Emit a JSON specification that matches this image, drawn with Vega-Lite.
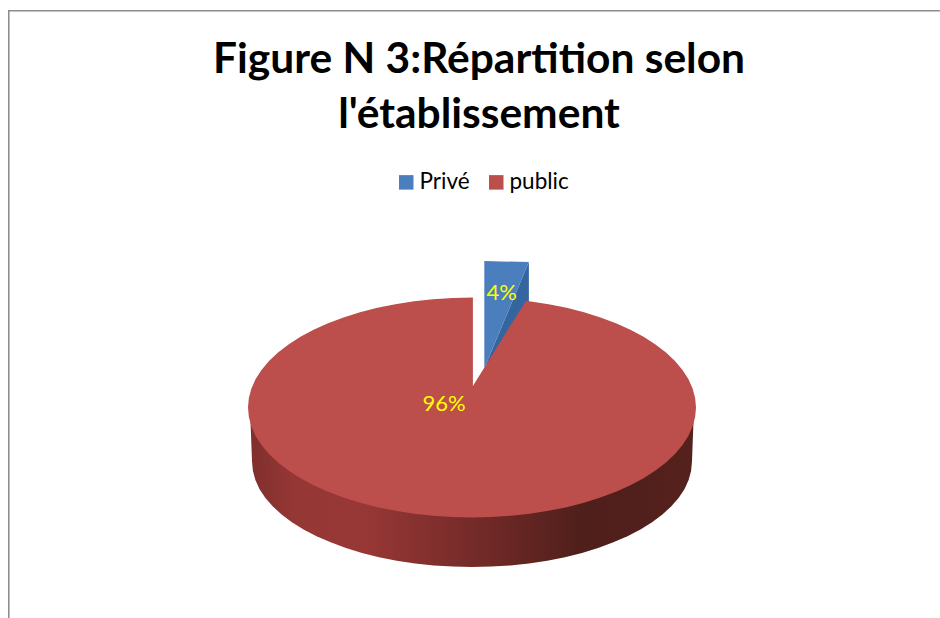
{
  "$schema": "https://vega.github.io/schema/vega-lite/v6.json",
  "width": 932,
  "height": 608,
  "autosize": "none",
  "padding": {"left": 8, "top": 10, "right": 0, "bottom": 0},
  "background": "white",
  "title": {
    "text": ["Figure N 3:Répartition selon", "l'établissement"],
    "font": "Lato",
    "fontSize": 42.5,
    "fontWeight": "bold",
    "color": "#000000",
    "anchor": "middle",
    "frame": "group",
    "baseline": "alphabetic",
    "lineHeight": 55,
    "dx": 5,
    "offset": -160
  },
  "view": {"stroke": null},
  "projection": {"type": "identity", "reflectY": true, "scale": 224, "translate": [464, 397.5]},
  "layer": [
    {
      "data": {"values": [
        {"type": "Feature", "properties": {"partie": "cadre"},
         "geometry": {"type": "LineString", "coordinates": [[2.089,1.772],[-2.069,1.772],[-2.069,-0.94]]}}
      ]},
      "mark": {"type": "geoshape", "filled": false, "fill": null, "stroke": "#8c8c8c", "strokeWidth": 2},
      "encoding": {}
    },
    {
      "data": {"values": [
        {"type": "Feature", "properties": {"categorie": "public", "partie": "tranche"},
         "geometry": {"type": "Polygon", "coordinates": [[
          [0.99,-0.03],[0.982,-0.243],[0.978,-0.284],[0.967,-0.324],[0.949,-0.364],[0.923,-0.403],[0.89,-0.441],[0.85,-0.4775],[0.804,-0.512],[0.752,-0.5445],[0.694,-0.575],[0.631,-0.602],[0.563,-0.627],[0.491,-0.649],[0.415,-0.668],[0.336,-0.684],[0.254,-0.696],[0.171,-0.705],[0.086,-0.71],[0,-0.712],
          [-0.086,-0.71],[-0.171,-0.705],[-0.254,-0.696],[-0.336,-0.684],[-0.415,-0.668],[-0.491,-0.649],[-0.563,-0.627],[-0.631,-0.602],[-0.694,-0.575],[-0.752,-0.5445],[-0.804,-0.512],[-0.85,-0.4775],[-0.89,-0.441],[-0.923,-0.403],[-0.949,-0.364],[-0.967,-0.324],[-0.978,-0.284],[-0.982,-0.243],[-0.99,-0.03],[0.99,-0.03]
         ]]}}
      ]},
      "mark": {
        "type": "geoshape",
        "strokeWidth": 0,
        "fill": {
          "gradient": "linear", "x1": 0, "y1": 0, "x2": 1, "y2": 0,
          "stops": [
            {"offset": 0, "color": "#7f2f2d"},
            {"offset": 0.1, "color": "#953735"},
            {"offset": 0.25, "color": "#983836"},
            {"offset": 0.5, "color": "#752b29"},
            {"offset": 0.75, "color": "#4f1f1b"},
            {"offset": 1, "color": "#55211d"}
          ]
        }
      },
      "encoding": {}
    },
    {
      "data": {"values": [
        {"type": "Feature", "properties": {"categorie": "Privé", "partie": "paroi"},
         "geometry": {"type": "Polygon", "coordinates": [[
          [0.254,0.649],[0.254,0.458],[0.055,0.176],[0.254,0.649]
         ]]}}
      ]},
      "mark": {"type": "geoshape", "fill": "#35659f", "strokeWidth": 0},
      "encoding": {}
    },
    {
      "data": {"values": [
        {"type": "Feature", "properties": {"categorie": "Privé", "part": 0.04},
         "geometry": {"type": "Polygon", "coordinates": [[
          [0.055,0.654],[0.254,0.649],[0.055,0.176],[0.055,0.654]
         ]]}},
        {"type": "Feature", "properties": {"categorie": "public", "part": 0.96},
         "geometry": {"type": "Polygon", "coordinates": [[
          [0.004,0.096],[0.241,0.477],[0.342,0.4614],[0.4226,0.445],[0.5,0.4252],[0.5736,0.4022],[0.6428,0.3761],[0.7071,0.3472],[0.766,0.3156],[0.8192,0.2816],[0.866,0.2455],[0.9063,0.2075],[0.9397,0.1679],[0.9659,0.1271],[0.9848,0.0852],[0.9962,0.0428],[1,0],
          [0.9962,-0.0428],[0.9848,-0.0852],[0.9659,-0.1271],[0.9397,-0.1679],[0.9063,-0.2075],[0.866,-0.2455],[0.8192,-0.2816],[0.766,-0.3156],[0.7071,-0.3472],[0.6428,-0.3761],[0.5736,-0.4022],[0.5,-0.4252],[0.4226,-0.445],[0.342,-0.4614],[0.2588,-0.4743],[0.1736,-0.4835],[0.0872,-0.4891],[0,-0.491],
          [-0.0872,-0.4891],[-0.1736,-0.4835],[-0.2588,-0.4743],[-0.342,-0.4614],[-0.4226,-0.445],[-0.5,-0.4252],[-0.5736,-0.4022],[-0.6428,-0.3761],[-0.7071,-0.3472],[-0.766,-0.3156],[-0.8192,-0.2816],[-0.866,-0.2455],[-0.9063,-0.2075],[-0.9397,-0.1679],[-0.9659,-0.1271],[-0.9848,-0.0852],[-0.9962,-0.0428],[-1,0],
          [-0.9962,0.0428],[-0.9848,0.0852],[-0.9659,0.1271],[-0.9397,0.1679],[-0.9063,0.2075],[-0.866,0.2455],[-0.8192,0.2816],[-0.766,0.3156],[-0.7071,0.3472],[-0.6428,0.3761],[-0.5736,0.4022],[-0.5,0.4252],[-0.4226,0.445],[-0.342,0.4614],[-0.2588,0.4743],[-0.1736,0.4835],[-0.0872,0.4891],[0.004,0.491],[0.004,0.096]
         ]]}}
      ]},
      "mark": {"type": "geoshape", "strokeWidth": 0},
      "encoding": {
        "color": {
          "field": "properties.categorie",
          "type": "nominal",
          "scale": {"domain": ["Privé", "public"], "range": ["#4a7ebd", "#bc4e4b"]},
          "legend": {
            "title": null,
            "orient": "none",
            "legendX": 387,
            "legendY": 161,
            "direction": "horizontal",
            "symbolType": "square",
            "symbolSize": 210,
            "symbolStrokeWidth": 0,
            "labelFont": "Lato",
            "labelFontSize": 22.5,
            "labelColor": "#000000",
            "labelOffset": 2,
            "columnPadding": 15,
            "padding": 0
          }
        }
      }
    },
    {
      "data": {"values": [
        {"categorie": "Privé", "part": 0.04, "lon": 0.133, "lat": 0.511},
        {"categorie": "public", "part": 0.96, "lon": -0.125, "lat": 0.016}
      ]},
      "mark": {"type": "text", "font": "Lato", "fontSize": 22, "color": "#ffff00", "align": "center", "baseline": "middle"},
      "encoding": {
        "longitude": {"field": "lon", "type": "quantitative"},
        "latitude": {"field": "lat", "type": "quantitative"},
        "text": {"field": "part", "type": "quantitative", "format": ".0%"}
      }
    }
  ]
}
